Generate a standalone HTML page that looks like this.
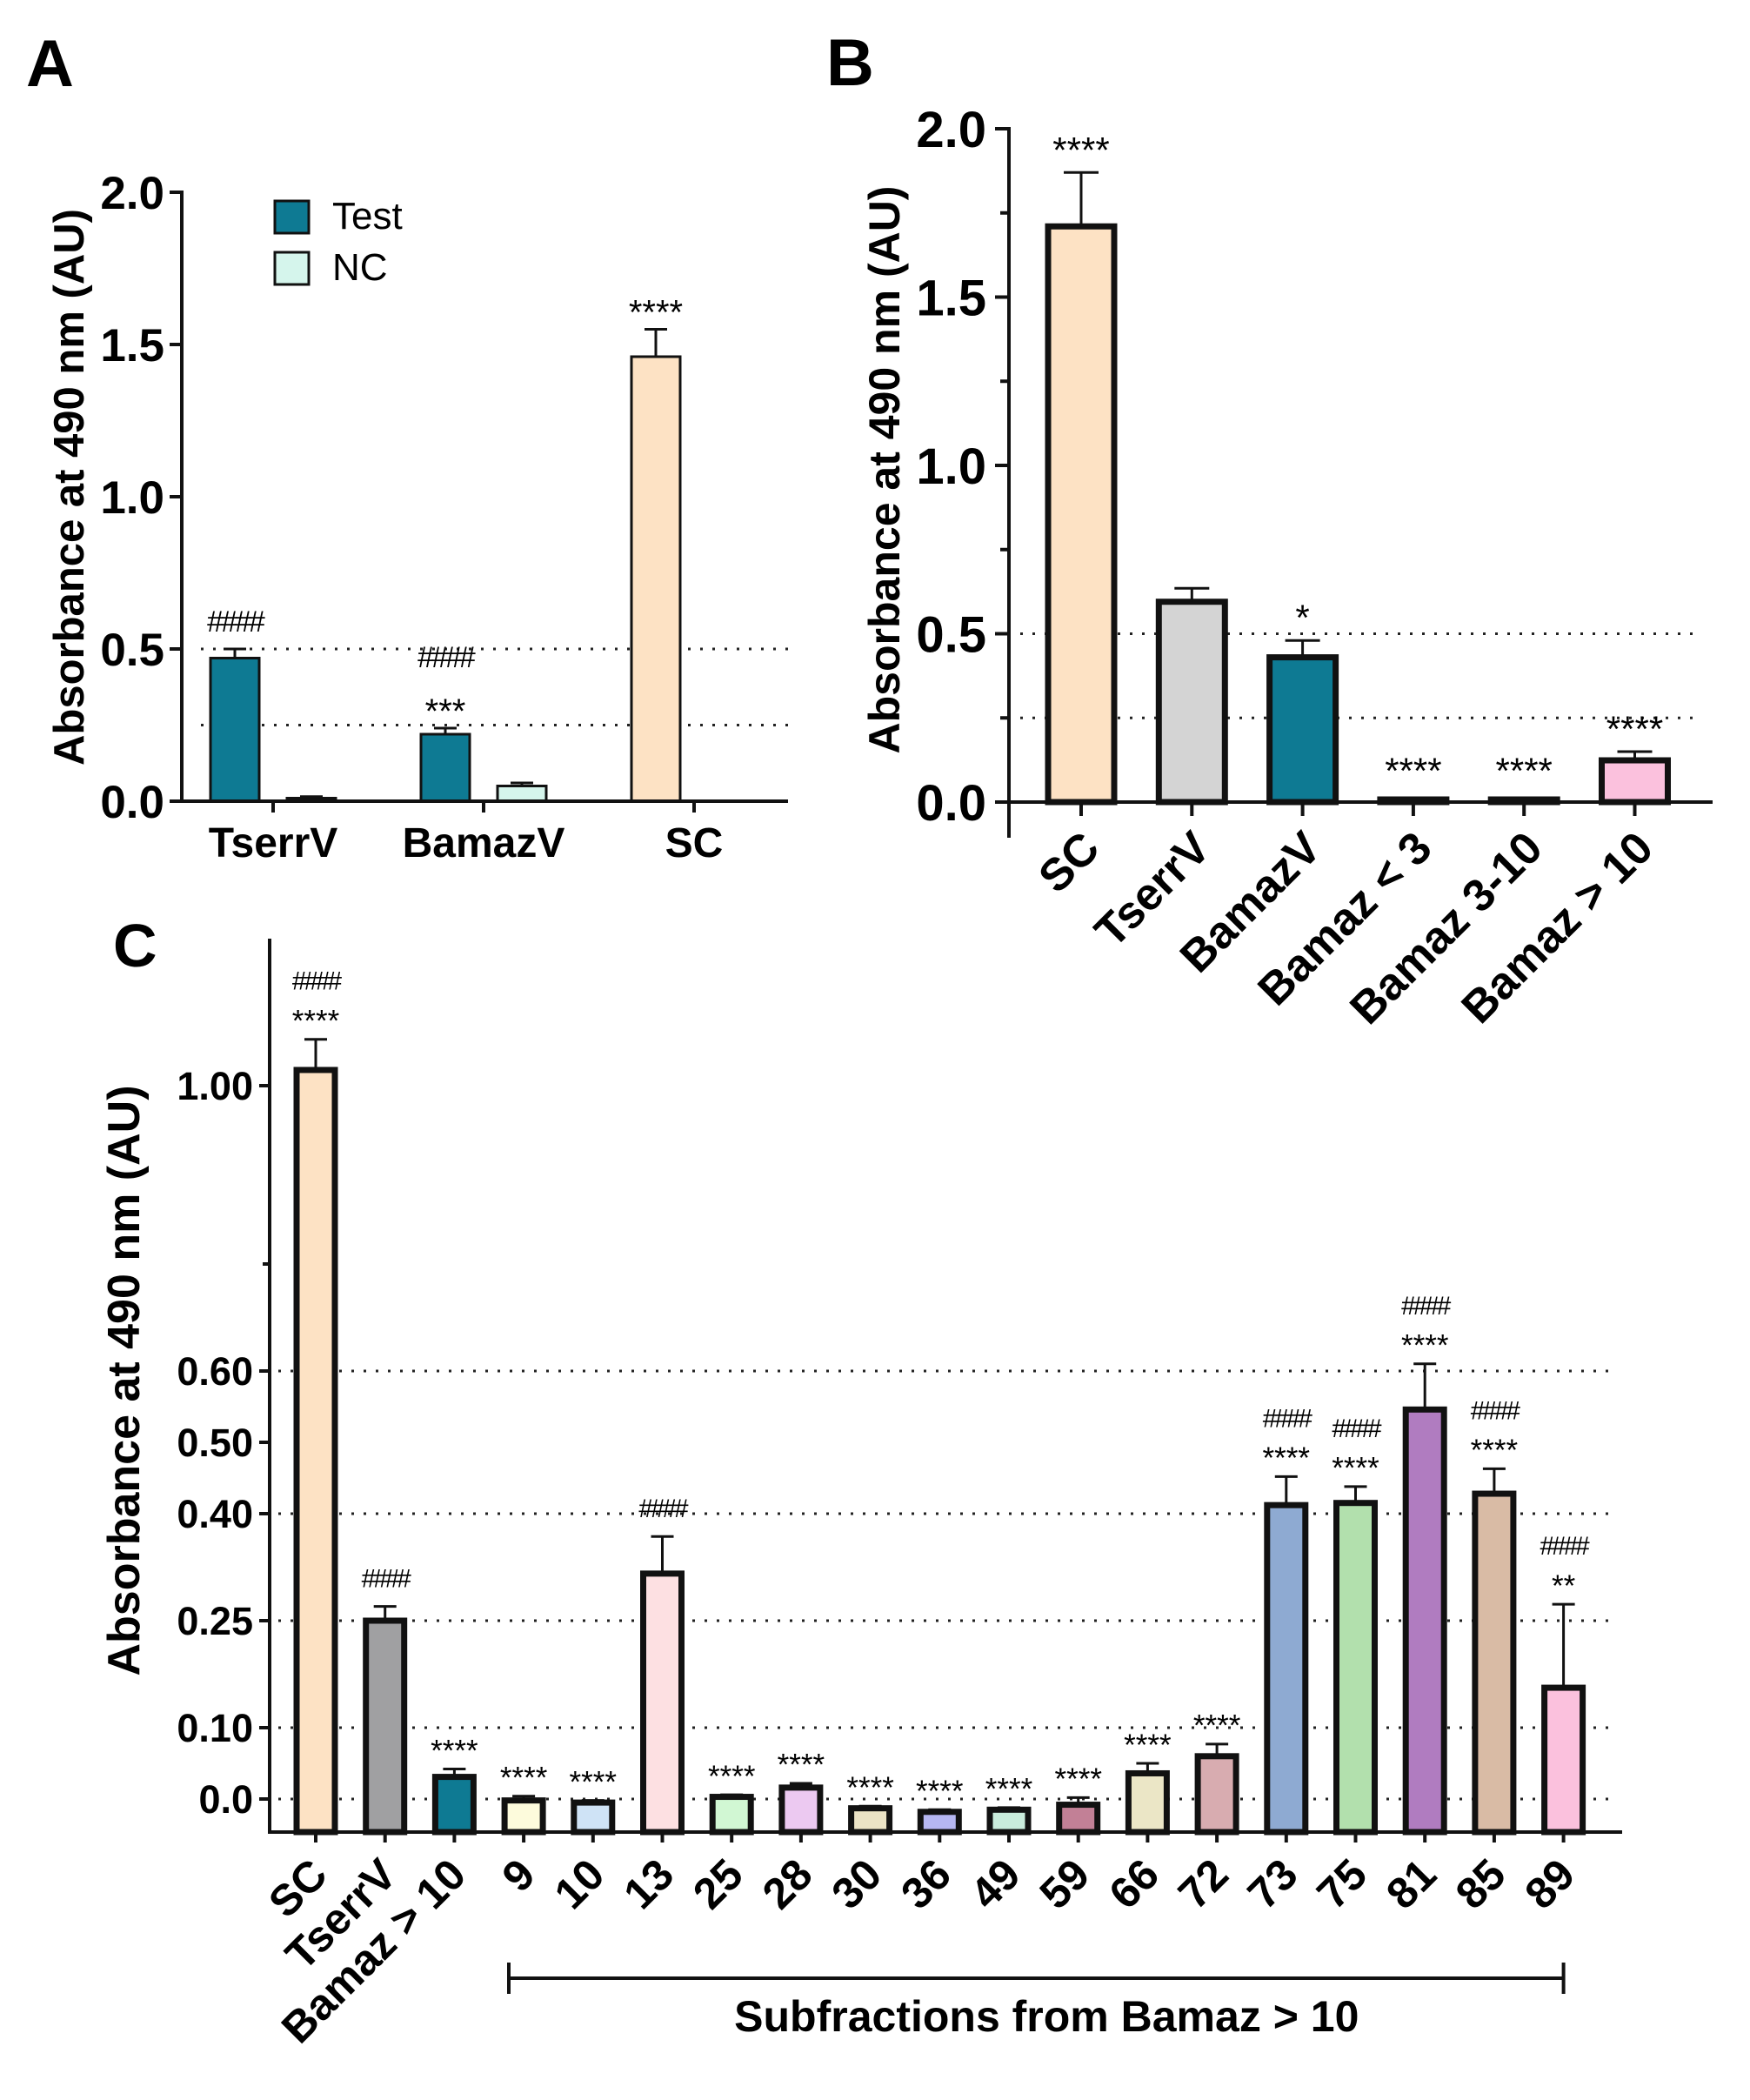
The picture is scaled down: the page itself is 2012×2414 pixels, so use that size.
<!DOCTYPE html>
<html><head><meta charset="utf-8">
<style>
html,body{margin:0;padding:0;background:#fff;}
svg{display:block;font-family:"Liberation Sans",Arial,sans-serif;}
</style></head>
<body>
<svg id="fig" width="2012" height="2414" viewBox="0 0 2012 2414" xmlns="http://www.w3.org/2000/svg">
<rect width="2012" height="2414" fill="#fff"/>
<text x="30" y="99" font-size="76" font-weight="bold">A</text>
<text x="950" y="98" font-size="76" font-weight="bold">B</text>
<text x="130" y="1111" font-size="70" font-weight="bold">C</text>
<g id="pa"></g>
<g id="pb"></g>
<g id="pc"></g>
</svg>
<script>
// ---------- Panel A data ----------
const aGroups = ["TserrV","BamazV","SC"];
const aTest = [0.47, 0.22, 1.46];
const aTestErr = [0.50, 0.24, 1.55];
const aNC = [0.01, 0.05, 0];
const aNCErr = [0.015, 0.06, 0];
const aTestAnn = ["####","####\n***","****"];
const aTicks = [0, 0.5, 1.0, 1.5, 2.0];
const aTickLabels = ["0.0","0.5","1.0","1.5","2.0"];
const aRefLines = [0.5, 0.25];
// ---------- Panel B data ----------
const bCats = ["SC","TserrV","BamazV","Bamaz < 3","Bamaz 3-10","Bamaz > 10"];
const bVals = [1.71, 0.595, 0.43, 0.003, 0.002, 0.124];
const bErr = [1.87, 0.635, 0.48, 0.004, 0.003, 0.15];
const bAnn = ["****","","*","****","****","****"];
const bTicks = [0, 0.5, 1.0, 1.5, 2.0];
const bTickLabels = ["0.0","0.5","1.0","1.5","2.0"];
const bMinor = [0.25, 0.75, 1.25, 1.75];
const bRefLines = [0.5, 0.25];
// ---------- Panel C data ----------
const cCats = ["SC","TserrV","Bamaz > 10","9","10","13","25","28","30","36","49","59","66","72","73","75","81","85","89"];
const cVals = [1.022,0.25,0.031,-0.002,-0.005,0.316,0.003,0.016,-0.013,-0.018,-0.015,-0.008,0.036,0.06,0.412,0.415,0.546,0.428,0.156];
const cErr = [1.065,0.27,0.042,0.004,-0.002,0.368,0.006,0.022,-0.01,-0.015,-0.012,0.002,0.05,0.077,0.452,0.438,0.61,0.463,0.273];
const cAnn = ["####\n****","####","****","****","****","####","****","****","****","****","****","****","****","****","####\n****","####\n****","####\n****","####\n****","####\n**"];
const cTicks = [0, 0.10, 0.25, 0.40, 0.50, 0.60, 1.00];
const cTickLabels = ["0.0","0.10","0.25","0.40","0.50","0.60","1.00"];
const cMinor = [0.75];
const cRefLines = [0.6, 0.4, 0.25, 0.1, 0.0];

const NS = "http://www.w3.org/2000/svg";
function mk(parent, tag, attrs){const e=document.createElementNS(NS,tag);for(const k in attrs)e.setAttribute(k,attrs[k]);parent.appendChild(e);return e;}

function annotate(g, x, yTop, txt, fs, gap){
  const lines = txt.split("\n").reverse();
  let base = yTop - 8;
  lines.forEach(function(l){
    const isHash = l.indexOf("#")>=0;
    const t = mk(g,"text",{x:x,y:isHash?base-4:base+fs*0.25,"font-size":isHash?fs*0.85:fs,"text-anchor":"middle","letter-spacing":isHash?-3:0});
    
    
    t.textContent = l;
    base -= gap;
  });
}

// ===== Panel A =====
(function(){
  const g = document.getElementById("pa");
  const X0=209, XE=906, Y0=921, PX=350;
  const y = v => Y0 - v*PX;
  const gx = i => 314 + i*242;
  aRefLines.forEach(function(v){
    const l = mk(g,"line",{x1:231,x2:XE,y1:y(v),y2:y(v),stroke:"#222","stroke-width":3,"stroke-dasharray":"3 11"});
    
    
  });
  aGroups.forEach(function(name,i){
    const cx = gx(i)-44, w=56;
    const b = mk(g,"rect",{x:cx-w/2,y:y(aTest[i]),width:w,height:y(0)-y(aTest[i]),fill:i==2?"#fde2c4":"#0e7a93",stroke:"#111","stroke-width":3});
    
    
    mk(g,"line",{x1:cx,x2:cx,y1:y(aTest[i]),y2:y(aTestErr[i]),stroke:"#111","stroke-width":3});
    mk(g,"line",{x1:cx-13,x2:cx+13,y1:y(aTestErr[i]),y2:y(aTestErr[i]),stroke:"#111","stroke-width":3});
    annotate(g,cx,y(aTestErr[i])-8,aTestAnn[i],40,50);
    if(aNC[i]>0){
      const nx = gx(i)+44;
      const nb = mk(g,"rect",{x:nx-w/2,y:y(aNC[i]),width:w,height:y(0)-y(aNC[i]),fill:"#d5f5ec",stroke:"#111","stroke-width":3});
      
      
      mk(g,"line",{x1:nx,x2:nx,y1:y(aNC[i]),y2:y(aNCErr[i]),stroke:"#111","stroke-width":3});
      mk(g,"line",{x1:nx-13,x2:nx+13,y1:y(aNCErr[i]),y2:y(aNCErr[i]),stroke:"#111","stroke-width":3});
    }
    mk(g,"line",{x1:gx(i),x2:gx(i),y1:Y0,y2:Y0+13,stroke:"#111","stroke-width":4});
    const t = mk(g,"text",{x:gx(i),y:985,"font-size":48,"font-weight":"bold","text-anchor":"middle"});
    
    
    t.textContent=name;
  });
  mk(g,"line",{x1:X0,x2:X0,y1:y(2)-2,y2:Y0+2,stroke:"#111","stroke-width":4});
  mk(g,"line",{x1:X0-2,x2:XE,y1:Y0,y2:Y0,stroke:"#111","stroke-width":4});
  aTicks.forEach(function(v,i){
    mk(g,"line",{x1:X0-14,x2:X0,y1:y(v),y2:y(v),stroke:"#111","stroke-width":4});
    const t=mk(g,"text",{x:X0-20,y:y(v)+19,"font-size":53,"font-weight":"bold","text-anchor":"end"});
    
    
    t.textContent=aTickLabels[i];
  });
  const yt = mk(g,"text",{x:0,y:0,"font-size":49,"font-weight":"bold","text-anchor":"middle",transform:"translate(96,560) rotate(-90)"});
  
  
  yt.textContent="Absorbance at 490 nm (AU)";
  const lg = mk(g,"g",{});
  
  
  const r1=mk(lg,"rect",{x:316,y:231,width:39,height:37,fill:"#0e7a93",stroke:"#111","stroke-width":3});
  
  
  const t1=mk(lg,"text",{x:382,y:263,"font-size":44});t1.textContent="Test";
  
  
  const r2=mk(lg,"rect",{x:316,y:290,width:39,height:37,fill:"#d5f5ec",stroke:"#111","stroke-width":3});
  
  
  const t2=mk(lg,"text",{x:382,y:322,"font-size":44});t2.textContent="NC";
  
  
})();

// ===== Panel B =====
(function(){
  const g = document.getElementById("pb");
  const X0=1160, XE=1969, Y0=922, PX=387;
  const y = v => Y0 - v*PX;
  const gx = i => 1243 + i*127.3;
  const colors=["#fde2c4","#d4d4d4","#0e7a93","#f2f2f2","#f2f2f2","#fbc1dd"];
  bRefLines.forEach(function(v){
    const l=mk(g,"line",{x1:1173,x2:1956,y1:y(v),y2:y(v),stroke:"#222","stroke-width":3,"stroke-dasharray":"3 11"});
    
    
  });
  bCats.forEach(function(name,i){
    const cx=gx(i), w=76;
    const top=Math.min(y(bVals[i]),Y0-3);
    const b=mk(g,"rect",{x:cx-w/2,y:top,width:w,height:Y0-top,fill:colors[i],stroke:"#111","stroke-width":7});
    
    
    if(bErr[i]-bVals[i]>0.005){
      mk(g,"line",{x1:cx,x2:cx,y1:y(bVals[i]),y2:y(bErr[i]),stroke:"#111","stroke-width":3});
      mk(g,"line",{x1:cx-20,x2:cx+20,y1:y(bErr[i]),y2:y(bErr[i]),stroke:"#111","stroke-width":3});
    }
    if(bAnn[i]) annotate(g,cx,Math.min(y(bErr[i]),Y0-10)-14,bAnn[i],42,45);
    mk(g,"line",{x1:cx,x2:cx,y1:Y0,y2:Y0+16,stroke:"#111","stroke-width":4});
    const t=mk(g,"text",{x:0,y:0,"font-size":52,"font-weight":"bold","text-anchor":"end",transform:"translate("+(cx+24)+","+(Y0+56)+") rotate(-45)"});
    
    
    t.textContent=name;
  });
  mk(g,"line",{x1:X0,x2:X0,y1:y(2)-2,y2:963,stroke:"#111","stroke-width":4});
  mk(g,"line",{x1:X0-2,x2:XE,y1:Y0,y2:Y0,stroke:"#111","stroke-width":4});
  bTicks.forEach(function(v,i){
    mk(g,"line",{x1:X0-16,x2:X0,y1:y(v),y2:y(v),stroke:"#111","stroke-width":4});
    const t=mk(g,"text",{x:X0-26,y:y(v)+21,"font-size":58,"font-weight":"bold","text-anchor":"end"});
    
    
    t.textContent=bTickLabels[i];
  });
  bMinor.forEach(function(v){mk(g,"line",{x1:X0-10,x2:X0,y1:y(v),y2:y(v),stroke:"#111","stroke-width":4});});
  const yt=mk(g,"text",{x:0,y:0,"font-size":50,"font-weight":"bold","text-anchor":"middle",transform:"translate(1034,540) rotate(-90)"});
  
  
  yt.textContent="Absorbance at 490 nm (AU)";
})();

// ===== Panel C =====
(function(){
  const g=document.getElementById("pc");
  const X0=310, XE=1865, Yz=2068, PX=820, Yaxis=2106;
  const y = v => Yz - v*PX;
  const gx = i => 363 + i*79.7;
  const colors=["#fde2c4","#a0a0a2","#0e7a93","#fdfbdc","#cfe3f6","#fde0e2","#d1f7d3","#ecc9f1","#ebe3c5","#b6b7f2","#c9ecdc","#c28096","#ebe6c6","#d8acb0","#8eaad2","#b2e0ad","#b07cc0","#d9bba5","#fbc1dd"];
  cRefLines.forEach(function(v){
    const l=mk(g,"line",{x1:320,x2:1851,y1:y(v),y2:y(v),stroke:"#222","stroke-width":3,"stroke-dasharray":"3 11"});
    
    
  });
  cCats.forEach(function(name,i){
    const cx=gx(i), w=44;
    const top=y(cVals[i]);
    const b=mk(g,"rect",{x:cx-w/2,y:top,width:w,height:Yaxis-top,fill:colors[i],stroke:"#111","stroke-width":7});
    
    
    mk(g,"line",{x1:cx,x2:cx,y1:top,y2:y(cErr[i]),stroke:"#111","stroke-width":3});
    mk(g,"line",{x1:cx-13,x2:cx+13,y1:y(cErr[i]),y2:y(cErr[i]),stroke:"#111","stroke-width":3});
    annotate(g,cx,y(Math.max(cErr[i],cVals[i]))-10,cAnn[i],35,35);
    mk(g,"line",{x1:cx,x2:cx,y1:Yaxis,y2:Yaxis+12,stroke:"#111","stroke-width":4});
    const t=mk(g,"text",{x:0,y:0,"font-size":50,"font-weight":"bold","text-anchor":"end",transform:"translate("+(cx+16)+","+(Yaxis+52)+") rotate(-45)"});
    
    
    t.textContent=name;
  });
  mk(g,"line",{x1:X0,x2:X0,y1:1079,y2:Yaxis+2,stroke:"#111","stroke-width":4});
  mk(g,"line",{x1:X0-2,x2:XE,y1:Yaxis,y2:Yaxis,stroke:"#111","stroke-width":4});
  cTicks.forEach(function(v,i){
    mk(g,"line",{x1:X0-12,x2:X0,y1:y(v),y2:y(v),stroke:"#111","stroke-width":4});
    const t=mk(g,"text",{x:291,y:y(v)+16,"font-size":45,"font-weight":"bold","text-anchor":"end"});
    
    
    t.textContent=cTickLabels[i];
  });
  cMinor.forEach(function(v){mk(g,"line",{x1:X0-8,x2:X0,y1:y(v),y2:y(v),stroke:"#111","stroke-width":4});});
  const yt=mk(g,"text",{x:0,y:0,"font-size":52,"font-weight":"bold","text-anchor":"middle",transform:"translate(160,1587) rotate(-90)"});
  
  
  yt.textContent="Absorbance at 490 nm (AU)";
  const bx1=585, bx2=gx(18), by=2274;
  const br=mk(g,"g",{});
  
  
  mk(br,"line",{x1:bx1,x2:bx2,y1:by,y2:by,stroke:"#111","stroke-width":4});
  mk(br,"line",{x1:bx1,x2:bx1,y1:by-18,y2:by+18,stroke:"#111","stroke-width":4});
  mk(br,"line",{x1:bx2,x2:bx2,y1:by-18,y2:by+18,stroke:"#111","stroke-width":4});
  const st=mk(g,"text",{x:(bx1+bx2)/2+12,y:2335,"font-size":50,"font-weight":"bold","text-anchor":"middle"});
  
  
  st.textContent="Subfractions from Bamaz > 10";
})();
</script>
</body></html>
